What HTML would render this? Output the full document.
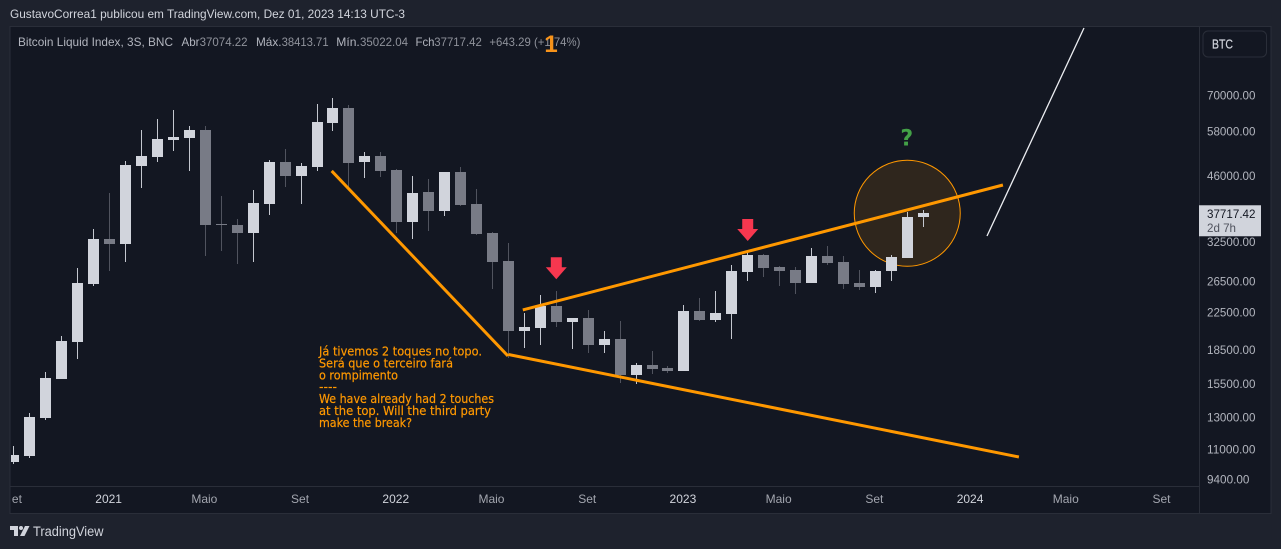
<!DOCTYPE html>
<html lang="pt">
<head>
<meta charset="utf-8">
<title>Bitcoin Liquid Index chart</title>
<style>
html,body{margin:0;padding:0;background:#1e222d;width:1281px;height:549px;overflow:hidden}
svg{display:block;position:absolute;left:0;top:0}
text{font-family:"Liberation Sans",sans-serif}
</style>
</head>
<body>
<svg id="chart" xmlns="http://www.w3.org/2000/svg" width="1281" height="549" viewBox="0 0 1281 549">
  <defs>
    <clipPath id="pane-clip"><rect x="11" y="27" width="1188" height="459"/></clipPath>
    <clipPath id="time-clip"><rect x="12" y="487" width="1187" height="26"/></clipPath>
  </defs>
  <rect x="0" y="0" width="1281" height="549" fill="#1e222d"/>
  <rect x="10" y="26.5" width="1261" height="487" fill="#131722" stroke="#2a2e39" stroke-width="1"/>
  <text x="10" y="18" font-size="12" fill="#d1d4dc" textLength="395" lengthAdjust="spacingAndGlyphs">GustavoCorrea1 publicou em TradingView.com, Dez 01, 2023 14:13 UTC-3</text>
  <g id="under-drawings" clip-path="url(#pane-clip)"></g>
  <g id="candles" clip-path="url(#pane-clip)" shape-rendering="crispEdges"></g>
  <g id="drawings" clip-path="url(#pane-clip)"></g>
  <g font-size="12" fill="#ff9800" stroke="#ff9800" stroke-width="0.2" style="font-family:'DejaVu Sans',sans-serif" lengthAdjust="spacingAndGlyphs">
    <text x="319" y="355.5" style="font-family:'DejaVu Sans',sans-serif" textLength="163" lengthAdjust="spacingAndGlyphs">Já tivemos 2 toques no topo.</text>
    <text x="319" y="367.5" style="font-family:'DejaVu Sans',sans-serif" textLength="134" lengthAdjust="spacingAndGlyphs">Será que o terceiro fará</text>
    <text x="319" y="379.5" style="font-family:'DejaVu Sans',sans-serif" textLength="79" lengthAdjust="spacingAndGlyphs">o rompimento</text>
    <text x="319" y="391" style="font-family:'DejaVu Sans',sans-serif" textLength="18" lengthAdjust="spacingAndGlyphs">----</text>
    <text x="319" y="403" style="font-family:'DejaVu Sans',sans-serif" textLength="175" lengthAdjust="spacingAndGlyphs">We have already had 2 touches</text>
    <text x="319" y="415" style="font-family:'DejaVu Sans',sans-serif" textLength="172" lengthAdjust="spacingAndGlyphs">at the top. Will the third party</text>
    <text x="319" y="427" style="font-family:'DejaVu Sans',sans-serif" textLength="93" lengthAdjust="spacingAndGlyphs">make the break?</text>
  </g>
  <g font-size="12">
    <text x="18" y="46" fill="#b2b5be" textLength="155" lengthAdjust="spacingAndGlyphs">Bitcoin Liquid Index, 3S, BNC</text>
    <text x="181.5" y="46" fill="#b2b5be" textLength="18" lengthAdjust="spacingAndGlyphs">Abr</text>
    <text x="199.6" y="46" fill="#8f929b" textLength="48" lengthAdjust="spacingAndGlyphs">37074.22</text>
    <text x="256" y="46" fill="#b2b5be" textLength="25.5" lengthAdjust="spacingAndGlyphs">Máx.</text>
    <text x="281.6" y="46" fill="#8f929b" textLength="47" lengthAdjust="spacingAndGlyphs">38413.71</text>
    <text x="336.3" y="46" fill="#b2b5be" textLength="23.5" lengthAdjust="spacingAndGlyphs">Mín.</text>
    <text x="360" y="46" fill="#8f929b" textLength="48" lengthAdjust="spacingAndGlyphs">35022.04</text>
    <text x="415.5" y="46" fill="#b2b5be" textLength="19" lengthAdjust="spacingAndGlyphs">Fch</text>
    <text x="434.3" y="46" fill="#8f929b" textLength="47.5" lengthAdjust="spacingAndGlyphs">37717.42</text>
    <text x="489.4" y="46" fill="#8f929b" textLength="91" lengthAdjust="spacingAndGlyphs">+643.29 (+1.74%)</text>
  </g>
  <text x="551" y="52" font-size="24" font-weight="bold" fill="#f7931a" text-anchor="middle">1</text>
  <line x1="1199.5" y1="27" x2="1199.5" y2="513" stroke="#2a2e39"/>
  <line x1="10" y1="486.5" x2="1199" y2="486.5" stroke="#2a2e39"/>
  <g id="price-axis"></g>
  <g id="time-axis" clip-path="url(#time-clip)"></g>
  <g>
    <rect x="1203" y="31" width="63.5" height="26" rx="5" fill="#131722" stroke="#2a2e39" stroke-width="1"/>
    <text x="1212" y="48.5" font-size="12.5" fill="#d1d4dc" stroke="#d1d4dc" stroke-width="0.2" textLength="21" lengthAdjust="spacingAndGlyphs">BTC</text>
  </g>
  <g id="last-price"></g>
  <g>
    <path d="M10 526H18V536H14V530H10Z" fill="#d1d4dc"/>
    <circle cx="21" cy="528" r="2" fill="#d1d4dc"/>
    <path d="M25 526H29.5L24.5 536H20Z" fill="#d1d4dc"/>
    <text x="33" y="536" font-size="13.5" fill="#d1d4dc" textLength="70.5" lengthAdjust="spacingAndGlyphs">TradingView</text>
  </g>
</svg>
<script>
/* ---------- chart data ---------- */
const opens = [10291,10617,12952,15884,19274,26057,32977,32120,48295,50627,55340,55919,58311,35660,35470,34024,39591,49324,45834,48047,60478,65418,49324,50887,47305,36041,42162,38176,46811,39591,34024,29393,20383,20705,23225,21365,21816,18938,19548,16189,17058,16797,16537,22631,21590,22274,27748,30320,28482,28042,26196,30166,29239,26196,25654,27895,29857,37074.22];
const highs = [11170,13253,16450,19853,28335,34747,41940,49584,58311,61763,64740,59531,59531,41283,36612,42608,49845,52796,49063,66790,68930,66433,51972,51972,47553,45834,45130,46811,48047,42831,34205,32291,22393,24597,25125,21816,22750,20383,21478,17241,18359,16971,23344,24221,25125,28775,30971,30483,28628,28482,31460,31785,30166,28042,28042,30320,37976,38413.71];
const lows = [10150,10508,12819,15859,17634,25826,27895,29239,43054,49324,52246,47058,30166,30971,28930,29239,37374,43276,39591,47058,58007,42608,45365,45600,34024,32977,34386,37184,39179,33663,25390,17699,18649,18938,20812,18552,18166,18166,15529,15447,16276,16363,16493,21478,21365,19548,26474,27031,25786,24729,26127,28775,25390,25258,24861,26474,29857,35022.04];
const closes = [10655,12999,15941,19345,26196,32977,32120,48542,50887,55630,56208,58311,35470,35470,34024,39803,49324,45834,48295,60800,65418,49063,50887,47058,36041,41940,38176,46811,39380,33844,29239,20383,20812,23225,21365,21816,18938,19548,16189,17058,16710,16537,22631,21590,22393,27895,30320,28335,27895,26196,30166,29085,26057,25654,27895,30011,37074.22,37717.42];

const priceTickLabels = [70000,58000,46000,32500,26500,22500,18500,15500,13000,11000,9400];
const timeTickLabels = ['Set','2021','Maio','Set','2022','Maio','Set','2023','Maio','Set','2024','Maio','Set'];
const timeTickBars = [0,6,12,18,24,30,36,42,48,54,60,66,72];
const yearTickLabels = ['2021','2022','2023','2024'];
const lastPriceCountdown = '2d 7h';

/* annotations, anchored in bar index and price */
const downTrendBars = [19.92,30.97];
const downTrendPrices = [47058,17882];
const lowerTrendBars = [31,63];
const lowerTrendPrices = [18021,10546];
const upperTrendBars = [31.9,62];
const upperTrendPrices = [22750,43722];
const projectionBars = [61,67.08];
const projectionPrices = [33492,99365];
const arrowBars = [34,46];
const arrowTipPrices = [26711,32634];
const circleBar = 56;
const circlePrice = 37717;
const questionBar = 56;
const questionPrice = 59000;

/* ---------- axis functions ---------- */
function xScale(bar){ return 13.93 + 15.952 * bar; }
function yScale(price){ return 95 + 191.25 * Math.log(70000 / price); }
function fmt(p){ return Number(p).toFixed(2); }

const NS = 'http://www.w3.org/2000/svg';
function make(parent, tag, attrs, txt){
  const el = document.createElementNS(NS, tag);
  for (const k in attrs) el.setAttribute(k, attrs[k]);
  if (txt !== undefined) el.textContent = txt;
  parent.appendChild(el);
  return el;
}

/* ---------- drawings under the candles ---------- */
const underLayer = document.getElementById('under-drawings');
const circleEl = make(underLayer, 'circle', {cx: xScale(circleBar), cy: yScale(circlePrice), r: 53, fill: 'rgba(255,152,0,0.12)', stroke: '#ff9800', 'stroke-width': 1});



/* ---------- candles ---------- */
const candleLayer = document.getElementById('candles');
opens.forEach(function(o, i){
  const c = closes[i], up = c >= o;
  const px = Math.floor(xScale(i));
  const top = Math.round(yScale(Math.max(o, c)));
  const bot = Math.round(yScale(Math.min(o, c)));
  const hi = Math.round(yScale(highs[i]));
  const lo = Math.round(yScale(lows[i]));
  const g = make(candleLayer, 'g', {});
  
  
  const wick = make(g, 'rect', {x: px, y: hi, width: 1, height: Math.max(1, lo - hi), fill: up ? '#c4c7cf' : '#50535e'});
  
  
  const body = make(g, 'rect', {x: px - 5, y: top, width: 11, height: Math.max(1, bot - top), fill: up ? '#d1d4dc' : '#787b86'});
  
  
});

/* ---------- drawings over the candles ---------- */
const drawLayer = document.getElementById('drawings');
function trend(bars, prices, color, w){
  return make(drawLayer, 'line', {x1: xScale(bars[0]), y1: yScale(prices[0]), x2: xScale(bars[1]), y2: yScale(prices[1]), stroke: color, 'stroke-width': w});
}
const downLine = trend(downTrendBars, downTrendPrices, '#ff9800', 3);


const lowerLine = trend(lowerTrendBars, lowerTrendPrices, '#ff9800', 3);


const upperLine = trend(upperTrendBars, upperTrendPrices, '#ff9800', 3);


const projLine = trend(projectionBars, projectionPrices, '#eceef2', 1.3);



arrowBars.forEach(function(b, k){
  const x = xScale(b), t = yScale(arrowTipPrices[k]);
  const pts = [[x-5.5,t-22],[x+5.5,t-22],[x+5.5,t-12],[x+10.5,t-12],[x,t],[x-10.5,t-12],[x-5.5,t-12]]
    .map(function(p){ return p[0] + ',' + p[1]; }).join(' ');
  const arrow = make(drawLayer, 'polygon', {points: pts, fill: '#f7374f'});
  
  
});

const qMark = make(drawLayer, 'text', {x: xScale(questionBar) - 0.5, y: yScale(questionPrice) + 18, 'font-size': 22, 'font-weight': 'bold', fill: '#43a047', 'text-anchor': 'middle', style: 'font-family:"DejaVu Sans",sans-serif'}, '?');



/* ---------- axes ---------- */
const priceAxis = document.getElementById('price-axis');
priceTickLabels.forEach(function(p){
  const s = fmt(p);
  const t = make(priceAxis, 'text', {x: 1207, y: yScale(p) + 4.5, 'font-size': 12, fill: '#b2b5be', textLength: s.length * 6.06, lengthAdjust: 'spacingAndGlyphs'}, s);
  
  
});
const timeAxis = document.getElementById('time-axis');
timeTickLabels.forEach(function(label, k){
  const isYear = yearTickLabels.indexOf(label) >= 0;
  const t = make(timeAxis, 'text', {x: xScale(timeTickBars[k]) - 1, y: 503, 'font-size': 12, fill: isYear ? '#d1d4dc' : '#a3a6af', 'text-anchor': 'middle'}, label);
  
  
});

/* ---------- last price badge ---------- */
const badgeLayer = document.getElementById('last-price');
const lastClose = closes[closes.length - 1];
const badgeY = yScale(lastClose);
const badgeRect = make(badgeLayer, 'rect', {x: 1199, y: badgeY - 8, width: 62, height: 31, fill: '#d1d4dc'});


const badgeText = make(badgeLayer, 'text', {x: 1207, y: badgeY + 4.5, 'font-size': 12, fill: '#131722', textLength: 48.5, lengthAdjust: 'spacingAndGlyphs'}, fmt(lastClose));


const badgeCount = make(badgeLayer, 'text', {x: 1207, y: badgeY + 18.5, 'font-size': 12, fill: '#50535e', textLength: 29, lengthAdjust: 'spacingAndGlyphs'}, lastPriceCountdown);


</script>
</body>
</html>
